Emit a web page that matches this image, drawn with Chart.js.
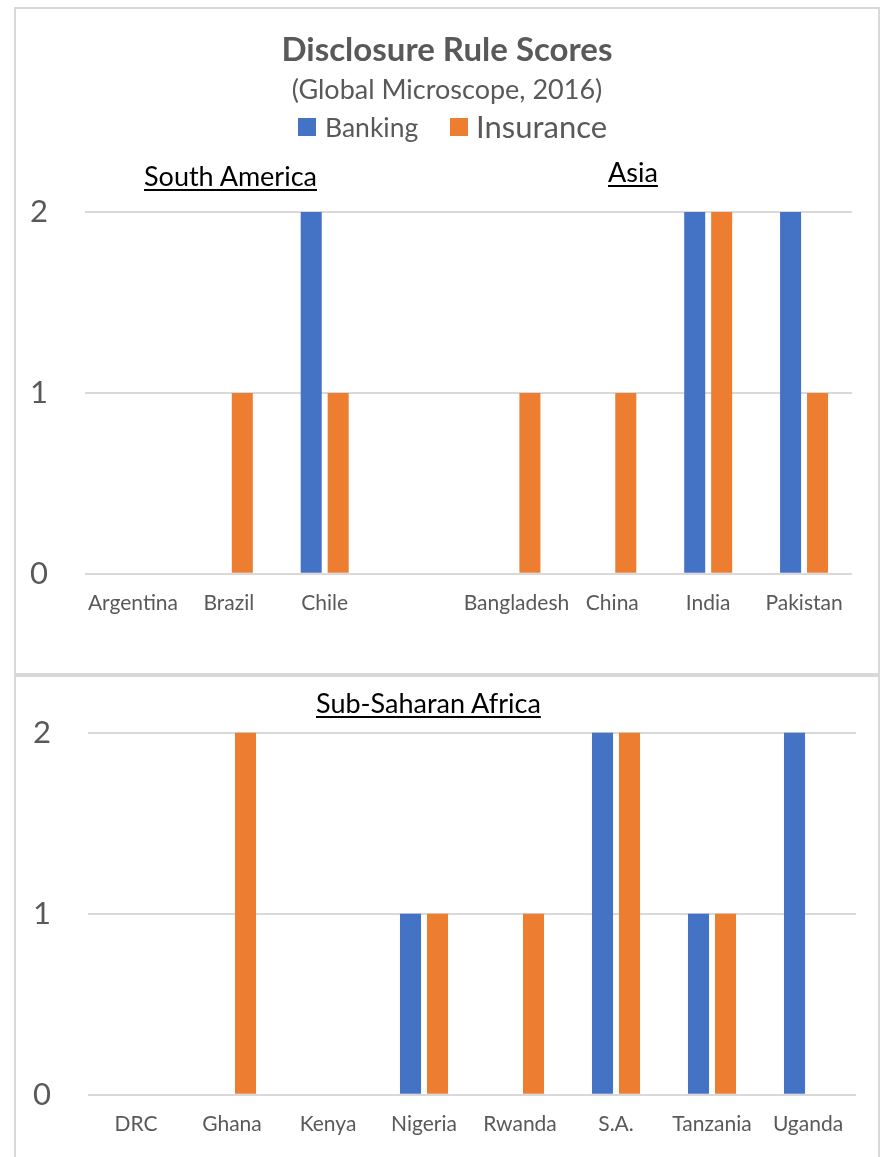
<!DOCTYPE html>
<html>
<head>
<meta charset="utf-8">
<script src="https://cdn.jsdelivr.net/npm/chart.js@4.4.1/dist/chart.umd.min.js"></script>
<style>
  html, body { margin: 0; padding: 0; background: #fff; }
  body { width: 880px; height: 1157px; position: relative; overflow: hidden; font-family: Lato, "Noto Sans", sans-serif; color: #595959; }
  .panel { position: absolute; left: 14px; width: 866px; border: 2px solid #d9d9d9; box-sizing: border-box; background: #fff; }
  #top { top: 7px; height: 668px; }
  #bottom { top: 675px; height: 492px; }
  .panel canvas { position: absolute; left: 0; top: 0; }
  .txt { position: absolute; white-space: nowrap; line-height: 1; }
  .region { color: #000; text-decoration: underline; text-decoration-thickness: 2px; text-underline-offset: 3px; font-size: 27px; }
  .sw { position: absolute; width: 18px; height: 18px; }
</style>
</head>
<body>
<div class="panel" id="top"><canvas id="topChart"></canvas></div>
<div class="panel" id="bottom"><canvas id="bottomChart"></canvas></div>

<div class="txt" style="left:0;width:894px;text-align:center;top:32px;font-size:33px;font-weight:bold;">Disclosure Rule Scores</div>
<div class="txt" style="left:0;width:894px;text-align:center;top:75px;font-size:27px;">(Global Microscope, 2016)</div>
<div class="sw" style="left:298px;top:118px;background:#4472c4;"></div>
<div class="txt" style="left:325px;top:114px;font-size:26.5px;">Banking</div>
<div class="sw" style="left:450px;top:118px;background:#ed7d31;"></div>
<div class="txt" style="left:476px;top:111px;font-size:31px;">Insurance</div>
<div class="txt region" style="left:144px;top:162px;">South America</div>
<div class="txt region" style="left:608px;top:158px;">Asia</div>
<div class="txt region" style="left:316px;top:689px;">Sub-Saharan Africa</div>

<script>
var seriesNames = ['Banking', 'Insurance'];

var topCategories = ['Argentina', 'Brazil', 'Chile', '', 'Bangladesh', 'China', 'India', 'Pakistan'];
var topBanking   = [0, 0, 2, null, 0, 0, 2, 2];
var topInsurance = [0, 1, 1, null, 1, 1, 2, 1];

var bottomCategories = ['DRC', 'Ghana', 'Kenya', 'Nigeria', 'Rwanda', 'S.A.', 'Tanzania', 'Uganda'];
var bottomBanking   = [0, 0, 0, 1, 0, 2, 1, 2];
var bottomInsurance = [0, 2, 0, 1, 1, 2, 1, 0];

var yTicks = [0, 1, 2];

var blue = '#4472C4', orange = '#ED7D31', grey = '#595959', gridGrey = '#d9d9d9';

function makeChart(id, w, h, labels, banking, insurance, pad, axisW) {
    var cv = document.getElementById(id);
    cv.width = w;
    cv.height = h;
    cv.style.width = w + 'px';
    cv.style.height = h + 'px';
    return new Chart(cv, {
        type: 'bar',
        data: {
            labels: labels,
            datasets: [
                { label: seriesNames[0], data: banking, backgroundColor: blue },
                { label: seriesNames[1], data: insurance, backgroundColor: orange }
            ]
        },
        options: {
            responsive: false,
            animation: false,
            devicePixelRatio: 1,
            categoryPercentage: 0.5625,
            barPercentage: 0.78,
            layout: { padding: pad },
            plugins: { legend: { display: false }, title: { display: false }, tooltip: { enabled: false } },
            scales: {
                x: {
                    grid: { display: false },
                    border: { display: false },
                    ticks: { color: grey, font: { family: 'Lato', size: 21 }, padding: 9, maxRotation: 0, autoSkip: false }
                },
                y: {
                    min: 0, max: 2,
                    afterBuildTicks: function(s) { s.ticks = yTicks.map(function(v) { return { value: v }; }); },
                    afterFit: function(s) { s.width = axisW; },
                    grid: { color: gridGrey, lineWidth: 2, drawTicks: false },
                    border: { display: false },
                    ticks: { color: grey, font: { family: 'Lato', size: 31 }, padding: 37 }
                }
            }
        }
    });
}

makeChart('topChart', 862, 664, topCategories, topBanking, topInsurance,
    { top: 203, right: 26, bottom: 48, left: 0 }, 69);

makeChart('bottomChart', 862, 488, bottomCategories, bottomBanking, bottomInsurance,
    { top: 54, right: 22, bottom: 19, left: 0 }, 72);
</script>
</body>
</html>
